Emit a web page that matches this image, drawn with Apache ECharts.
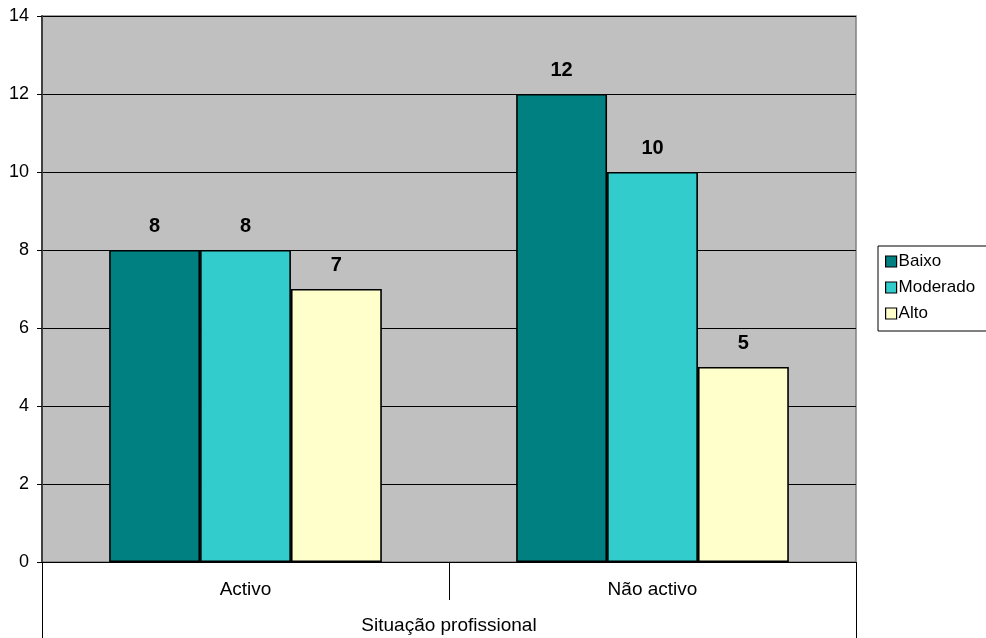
<!DOCTYPE html>
<html>
<head>
<meta charset="utf-8">
<script src="https://cdn.jsdelivr.net/npm/echarts@6/dist/echarts.min.js"></script>
<style>html,body{margin:0;padding:0;background:#fff;}#c{width:986px;height:638px;}</style>
</head>
<body>
<div id="c"></div>
<script>
const categories = ['Activo', 'Não activo'];
const axisTitle = ['Situação profissional'];
const seriesNames = ['Baixo', 'Moderado', 'Alto'];
const baixo = [8, 12];
const moderado = [8, 10];
const alto = [7, 5];
const colors = ['#008080', '#33CCCC', '#FFFFCC'];

const chart = echarts.init(document.getElementById('c'));
const font = 'Liberation Sans, Arial, sans-serif';
const mk = (name, data, color) => ({
  name, type: 'bar', data, xAxisIndex: 0,
  barGap: '0%', barCategoryGap: '33%',
  itemStyle: { color, borderColor: '#000', borderWidth: 1.6 },
  label: { show: true, position: 'top', distance: 14, color: '#000', fontWeight: 'bold', fontSize: 20, fontFamily: font },
  emphasis: { disabled: true }
});
chart.setOption({
  animation: false,
  textStyle: { fontFamily: font },
  grid: { left: 42, right: 130, top: 16, bottom: 76, show: true, backgroundColor: '#C0C0C0', borderColor: '#808080', borderWidth: 1.5 },
  legend: {
    orient: 'vertical', left: 878, top: 246,
    backgroundColor: '#fff', borderColor: '#000', borderWidth: 1,
    padding: [7, 40, 9, 7], itemGap: 9, itemWidth: 11, itemHeight: 11,
    textStyle: { fontSize: 17, color: '#000', fontFamily: font, padding: [0, 0, 0, -3] },
    itemStyle: { borderColor: '#000', borderWidth: 1.2 },
    icon: 'rect',
    data: seriesNames
  },
  xAxis: [
    {
      type: 'category', data: categories, position: 'bottom',
      axisLine: { lineStyle: { color: '#000', width: 1 } },
      axisTick: { show: true, length: 38, alignWithLabel: false, lineStyle: { color: '#000' } },
      axisLabel: { color: '#000', fontSize: 19, margin: 18 },
      splitLine: { show: false }
    },
    {
      type: 'category', data: axisTitle, position: 'bottom',
      axisLine: { show: false },
      axisTick: { show: true, length: 76, alignWithLabel: false, lineStyle: { color: '#000' } },
      axisLabel: { color: '#000', fontSize: 19, margin: 54 },
      splitLine: { show: false }
    }
  ],
  yAxis: {
    type: 'value', min: 0, max: 14, interval: 2,
    axisLine: { show: true, lineStyle: { color: '#404040', width: 2 } },
    axisTick: { show: true, length: 5, lineStyle: { color: '#000' } },
    axisLabel: { color: '#000', fontSize: 18, margin: 13 },
    splitLine: { show: true, lineStyle: { color: '#000', width: 1 } }
  },
  series: [mk(seriesNames[0], baixo, colors[0]), mk(seriesNames[1], moderado, colors[1]), mk(seriesNames[2], alto, colors[2])]
});
</script>
</body>
</html>
